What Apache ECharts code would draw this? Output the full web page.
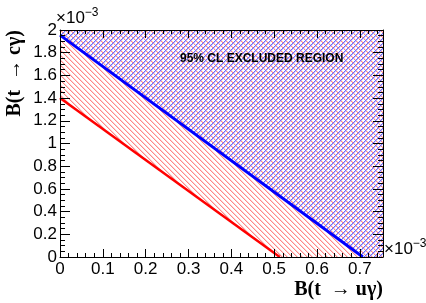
<!DOCTYPE html>
<html>
<head>
<meta charset="utf-8">
<script src="https://cdn.jsdelivr.net/npm/echarts@6/dist/echarts.min.js"></script>
<style>html,body{margin:0;padding:0;background:#fff}#c{width:426px;height:303px}</style>
</head>
<body>
<div id="c"></div>
<script>
// ---- data (units of 1e-3) ----
const xRange = [0, 0.754];
const yRange = [0, 2.0];
const xTicks = [0, 0.1, 0.2, 0.3, 0.4, 0.5, 0.6, 0.7];
const yTicks = [0, 0.2, 0.4, 0.6, 0.8, 1, 1.2, 1.4, 1.6, 1.8, 2];
const redLimit = [[0, 1.40], [0.513, 0]];
const blueLimit = [[0, 1.955], [0.707, 0]];
const regionLabel = '95% CL EXCLUDED REGION';
const xTitle = 'B(t  \u2192 u\u03b3)';
const yTitle = 'B(t  \u2192 c\u03b3)';

function hatch(dir, dark, light) {
  const s = 5, c = document.createElement('canvas');
  c.width = s; c.height = s;
  const g = c.getContext('2d');
  for (let x = 0; x < s; x++) for (let y = 0; y < s; y++) {
    const m = ((dir > 0 ? x - y : x + y) % s + s) % s;
    if (m === 0) { g.fillStyle = dark; g.fillRect(x, y, 1, 1); }
    else if (m === 1) { g.fillStyle = light; g.fillRect(x, y, 1, 1); }
  }
  return { image: c, repeat: 'repeat' };
}
const redHatch = hatch(1, 'rgb(255,135,135)', 'rgb(255,210,210)');
const blueHatch = hatch(-1, 'rgba(100,100,255,0.95)', 'rgba(170,170,255,0.7)');

const chart = echarts.init(document.getElementById('c'), null, { renderer: 'canvas' });
const labelFont = { fontFamily: 'Liberation Sans', fontSize: 17, color: '#000' };
const baseX = {
  type: 'value', min: xRange[0], max: xRange[1], interval: 0.1, z: 10,
  axisLine: { show: true, onZero: false, lineStyle: { color: '#000', width: 1 } },
  splitLine: { show: false },
  axisTick: { show: true, inside: true, length: 8, lineStyle: { color: '#000' } },
  minorTick: { show: true, splitNumber: 5, length: 4, lineStyle: { color: '#000' } }
};
const baseY = {
  type: 'value', min: yRange[0], max: yRange[1], interval: 0.2, z: 10,
  axisLine: { show: true, onZero: false, lineStyle: { color: '#000', width: 1 } },
  splitLine: { show: false },
  axisTick: { show: true, inside: true, length: 10, lineStyle: { color: '#000' } },
  minorTick: { show: true, splitNumber: 4, length: 5, lineStyle: { color: '#000' } }
};
const withEnd = (pts) => pts.concat([[xRange[1], 0]]);
const expRich = {
  a: { fontFamily: 'Liberation Sans', fontSize: 17, fill: '#000', color: '#000' },
  s: { fontFamily: 'Liberation Sans', fontSize: 12, fill: '#000', color: '#000', verticalAlign: 'top', padding: [0, 0, 10, 0] }
};

chart.setOption({
  animation: false,
  grid: { left: 60, right: 43, top: 30, bottom: 46, show: false },
  xAxis: [
    Object.assign({}, baseX, { position: 'bottom',
      axisLabel: Object.assign({ margin: 4, showMaxLabel: false,
        formatter: v => xTicks.includes(+v.toFixed(3)) ? String(+v.toFixed(3)) : '' }, labelFont) }),
    Object.assign({}, baseX, { position: 'top', axisLabel: { show: false } })
  ],
  yAxis: [
    Object.assign({}, baseY, { position: 'left',
      axisLabel: Object.assign({ margin: 3,
        formatter: v => yTicks.includes(+v.toFixed(3)) ? String(+v.toFixed(3)) : '' }, labelFont) }),
    Object.assign({}, baseY, { position: 'right', axisLabel: { show: false } })
  ],
  series: [
    { type: 'line', data: withEnd(redLimit), symbol: 'none', silent: true, z: 1,
      lineStyle: { width: 0, opacity: 0 }, areaStyle: { origin: 'end', color: redHatch, opacity: 1 } },
    { type: 'line', data: withEnd(blueLimit), symbol: 'none', silent: true, z: 1,
      lineStyle: { width: 0, opacity: 0 }, areaStyle: { origin: 'end', color: blueHatch, opacity: 1 } },
    { type: 'line', data: redLimit, symbol: 'none', z: 5, lineStyle: { color: '#ff0000', width: 2.5 } },
    { type: 'line', data: blueLimit, symbol: 'none', z: 5, lineStyle: { color: '#0000ff', width: 3 } }
  ],
  graphic: [
    { type: 'text', x: 180, y: 59, z: 20, style: { text: regionLabel, fontFamily: 'Liberation Sans',
      fontWeight: 'bold', fontSize: 12, fill: '#000', align: 'left', verticalAlign: 'middle' } },
    { type: 'text', x: 15, y: 30, rotation: Math.PI / 2, style: { text: yTitle, fontFamily: 'Liberation Serif',
      fontWeight: 'bold', fontSize: 20, fill: '#000', align: 'right', verticalAlign: 'middle' } },
    { type: 'text', x: 383, y: 290, style: { text: xTitle, fontFamily: 'Liberation Serif',
      fontWeight: 'bold', fontSize: 20, fill: '#000', align: 'right', verticalAlign: 'middle' } },
    { type: 'text', x: 56, y: 18, style: { text: '{a|\u00d710}{s|\u22123}', align: 'left', verticalAlign: 'middle', rich: expRich } },
    { type: 'text', x: 384, y: 249, style: { text: '{a|\u00d710}{s|\u22123}', align: 'left', verticalAlign: 'middle', rich: expRich } }
  ]
});
</script>
</body>
</html>
